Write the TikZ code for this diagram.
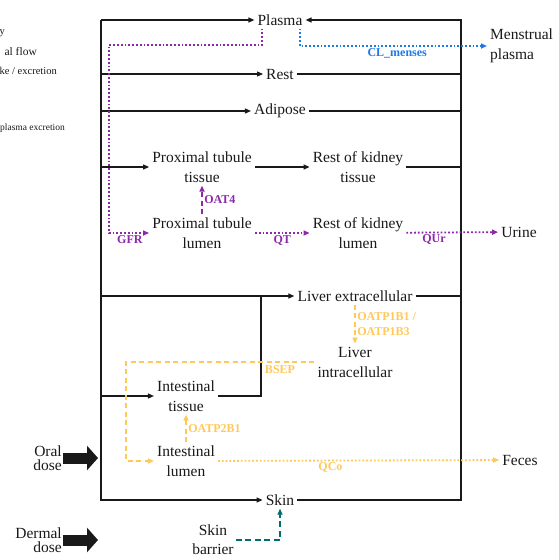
\documentclass[tikz,border=0pt]{standalone}
\usepackage{fontspec}
\setmainfont{Liberation Serif}
\usetikzlibrary{arrows.meta}
\definecolor{inkblack}{RGB}{25,25,25}
\definecolor{kidneypurple}{RGB}{140,40,170}
\definecolor{mensblue}{RGB}{30,120,230}
\definecolor{bileyellow}{RGB}{255,200,90}
\definecolor{skinteal}{RGB}{0,110,110}

\begin{document}
\begin{tikzpicture}[x=1pt,y=-1pt,>={Triangle[length=6pt,width=5pt]},
  font=\fontsize{15.5}{20}\selectfont,text=inkblack,
  cmp/.style={inner sep=3pt,align=center},
  dose/.style={inner sep=1pt,align=right,anchor=east,font=\fontsize{15.5}{14.5}\selectfont},
  legtxt/.style={inner sep=0pt,anchor=east,font=\fontsize{10.5}{12}\selectfont},
  lab/.style={inner sep=1.5pt,font=\fontsize{12}{14}\selectfont\bfseries},
  flow/.style={draw=inkblack,line width=1.2pt},
  dotline/.style={line width=1.8pt,dash pattern=on 1.8pt off 2pt},
  dashline/.style={line width=1.5pt,dash pattern=on 5pt off 3.5pt},
  bigarrow/.style={draw=inkblack,line width=11pt,-{Triangle[length=11pt,width=24pt]}}]
  \useasboundingbox (0,0) rectangle (558,560);
  % cut-off legend
  \node[legtxt] (leg1) at (5,33) {y};
  \node[legtxt,font=\fontsize{11.5}{12}\selectfont] (leg2) at (37,52) {al flow};
  \node[legtxt] (leg3) at (57,71) {ke / excretion};
  \node[legtxt,font=\fontsize{9.5}{12}\selectfont] (leg4) at (65,128) {plasma excretion};
  % buses
  \coordinate (lbus) at (101,0);
  \coordinate (rbus) at (461,0);
  \coordinate (gfrbus) at (109,45);
  \coordinate (bilebus) at (126,0);
  \coordinate (portal) at (261,296);
  \coordinate (dosetip) at (98,0);
  % compartments
  \node[cmp] (plasma) at (280,20) {Plasma};
  \node[cmp] (rest) at (280,74) {Rest};
  \node[cmp] (adipose) at (280,111) {Adipose};
  \node[cmp] (pttissue) at (202,167) {Proximal tubule\\tissue};
  \node[cmp] (rktissue) at (358,167) {Rest of kidney\\tissue};
  \node[cmp] (ptlumen) at (202,233) {Proximal tubule\\lumen};
  \node[cmp] (rklumen) at (358,233) {Rest of kidney\\lumen};
  \node[cmp] (urine) at (519,232) {Urine};
  \node[cmp,align=left,anchor=west] (menses) at (487,46) {Menstrual\\plasma};
  \node[cmp] (livex) at (355,296) {Liver extracellular};
  \node[cmp] (livin) at (355,362) {Liver\\intracellular};
  \node[cmp] (inttissue) at (186,396) {Intestinal\\tissue};
  \node[cmp] (intlumen) at (186,461) {Intestinal\\lumen};
  \node[cmp] (feces) at (520,460) {Feces};
  \node[cmp] (skin) at (280,500) {Skin};
  \node[cmp,inner sep=2pt,font=\fontsize{15.5}{19}\selectfont] (skinbar) at (213,540) {Skin\\barrier};
  \node[dose] (oral) at (63,458) {Oral\\dose};
  \node[dose] (dermal) at (63,540) {Dermal\\dose};
  % blood flows
  \draw[flow,->] (plasma -| lbus) -- (plasma);
  \draw[flow,->] (plasma -| lbus) |- (skin);
  \draw[flow,->] (skin) -| (plasma -| rbus) -- (plasma);
  \draw[flow,->] (rest -| lbus) -- (rest);
  \draw[flow] (rest) -- (rest -| rbus);
  \draw[flow,->] (adipose -| lbus) -- (adipose);
  \draw[flow] (adipose) -- (adipose -| rbus);
  \draw[flow,->] (pttissue -| lbus) -- (pttissue);
  \draw[flow,->] (pttissue) -- (rktissue);
  \draw[flow] (rktissue) -- (rktissue -| rbus);
  \draw[flow,->] (livex -| lbus) -- (livex);
  \draw[flow] (livex) -- (livex -| rbus);
  \draw[flow,->] (inttissue -| lbus) -- (inttissue);
  \draw[flow] (inttissue) -| (portal);
  % kidney
  \draw[dotline,kidneypurple,->] ([xshift=-18pt]plasma.south) |- (gfrbus) |- node[pos=0.76,below,lab]{GFR} (ptlumen);
  \draw[dashline,kidneypurple,->] (ptlumen) -- node[right,lab]{OAT4} (pttissue);
  \draw[dotline,kidneypurple,->] (ptlumen) -- node[below,lab]{QT} (rklumen);
  \draw[dotline,kidneypurple,->] (rklumen) -- node[pos=0.3,below,lab]{QUr} (urine);
  % menses
  \draw[dotline,mensblue,->] ([xshift=20pt]plasma.south) |- node[pos=0.76,below,lab]{CL\_menses} (menses);
  % liver and gut
  \draw[dashline,bileyellow,->] (livex) -- node[right,lab,align=left,font=\fontsize{12}{15}\selectfont\bfseries]{OATP1B1 /\\OATP1B3} (livin);
  \draw[dashline,bileyellow,->] (livin) -| (intlumen -| bilebus) -- (intlumen);
  \node[lab,text=bileyellow] (bseplab) at (280,370) {BSEP};
  \draw[dashline,bileyellow,->] (intlumen) -- node[right,lab]{OATP2B1} (inttissue);
  \draw[dotline,bileyellow,->] (intlumen) -- node[pos=0.4,below,lab]{QCo} (feces);
  % skin
  \draw[line width=1.8pt,dash pattern=on 6pt off 3.5pt,skinteal,->] (skinbar) -| (skin);
  % doses
  \draw[bigarrow] (oral) -- (oral -| dosetip);
  \draw[bigarrow] (dermal) -- (dermal -| dosetip);
\end{tikzpicture}
\end{document}
